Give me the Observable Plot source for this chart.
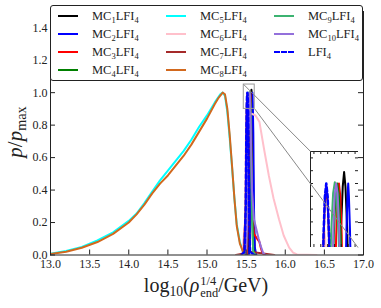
<!DOCTYPE html>
<html><head><meta charset="utf-8">
<script src="https://cdn.jsdelivr.net/npm/d3@7"></script>
<script src="https://cdn.jsdelivr.net/npm/@observablehq/plot@0.6"></script>
<style>
body{margin:0;background:#fff;}
#wrap{position:relative;width:381px;height:308px;font-family:"Liberation Serif",serif;overflow:hidden;}
#wrap svg{position:absolute;left:0;top:0;}
#wrap svg, #wrap svg text{font-family:"Liberation Serif",serif !important;}
.leg{position:absolute;left:50px;top:5px;width:311px;height:74px;border:1px solid #222;border-radius:3px;background:#fff;}
.item{position:absolute;height:16px;font-size:12.5px;line-height:16px;color:#222;white-space:nowrap;}
.item .sw{position:absolute;left:0;top:7px;width:20px;height:0;border-top:2px solid;}
.item .tx{position:absolute;left:34px;top:0;}
sub{font-size:0.68em;vertical-align:-0.3em;line-height:0;}
.ylab{position:absolute;left:15px;top:132px;transform:translate(-50%,-50%) rotate(-90deg);font-size:21px;color:#222;white-space:nowrap;}
.xlab{position:absolute;left:206px;top:287px;transform:translate(-50%,-50%);font-size:20px;color:#222;white-space:nowrap;}
.ss{display:inline-block;vertical-align:middle;line-height:1;font-size:0.62em;text-align:left;margin-left:1px;}
.ss span{display:block;}
</style></head><body><div id="wrap"></div>
<script>
// ---------------- data ----------------
const seriesNames = ["MC1LFI4","MC2LFI4","MC3LFI4","MC4LFI4","MC5LFI4","MC6LFI4","MC7LFI4","MC8LFI4","MC9LFI4","MC10LFI4","LFI4"];
const seriesColors = ["#000000","#0000ff","#ff0000","#008000","#00ffff","#ffc0cb","#a52a2a","#d2691e","#3cb371","#9370db","#0000ff"];
const xTicks = [13.0,13.5,14.0,14.5,15.0,15.5,16.0,16.5,17.0];
const yTicks = [0.0,0.2,0.4,0.6,0.8,1.0,1.2,1.4];
const insetXTicks = [15.48,15.50,15.52,15.54,15.56,15.58,15.60];
const insetYTicks = [0.92,0.94,0.96,0.98,1.00,1.02,1.04];
const zoomX = [15.47,15.61];
const zoomY = [0.90,1.05];
const insetX = [16.323,16.93];
const insetY = [0.046,0.638];

const mc1 = [[15.52,0],[15.542,0.3],[15.552,0.75],[15.559,0.93],[15.564,0.995],[15.568,1.018],[15.572,0.995],[15.577,0.93],[15.584,0.75],[15.594,0.3],[15.61,0.02],[15.63,0]];
const mc2 = [[15.54,0],[15.558,0.3],[15.568,0.75],[15.575,0.93],[15.578,0.98],[15.58,1.0],[15.582,0.98],[15.585,0.93],[15.592,0.75],[15.6,0.3],[15.61,0.05],[15.63,0]];
const mc3 = [[15.51,0],[15.527,0.3],[15.537,0.75],[15.545,0.92],[15.549,0.98],[15.553,1.0],[15.557,0.98],[15.561,0.92],[15.568,0.6],[15.58,0.25],[15.6,0.13],[15.64,0.1],[15.67,0.08],[15.69,0.04],[15.71,0.01],[15.74,0]];
const mc4 = [[15.5,0],[15.52,0.3],[15.53,0.75],[15.538,0.92],[15.543,0.98],[15.548,1.0],[15.553,0.98],[15.558,0.92],[15.565,0.75],[15.575,0.3],[15.59,0.04],[15.61,0]];
const mc5 = [[13.0,0.008],[13.2,0.025],[13.4,0.05],[13.6,0.09],[13.8,0.14],[14.0,0.21],[14.1,0.255],[14.2,0.32],[14.3,0.39],[14.4,0.46],[14.5,0.52],[14.6,0.58],[14.7,0.64],[14.8,0.71],[14.9,0.79],[15.0,0.86],[15.1,0.94],[15.17,0.99],[15.2,1.0],[15.23,0.98],[15.26,0.88],[15.29,0.72],[15.32,0.54],[15.35,0.35],[15.38,0.19],[15.42,0.08],[15.46,0.02],[15.5,0]];
const mc6 = [[15.45,0],[15.485,0.2],[15.497,0.7],[15.505,0.9],[15.51,0.93],[15.515,0.9],[15.53,0.88],[15.57,0.87],[15.62,0.86],[15.67,0.82],[15.73,0.65],[15.79,0.49],[15.85,0.35],[15.92,0.22],[15.98,0.12],[16.05,0.045],[16.1,0.015],[16.15,0.003],[16.4,0]];
const mc7 = [[15.37,0],[15.47,0.01],[15.495,0.3],[15.503,0.74],[15.508,0.91],[15.512,0.97],[15.516,0.995],[15.52,0.97],[15.524,0.91],[15.529,0.74],[15.537,0.3],[15.55,0.02],[15.86,0]];
const mc8 = [[13.0,0.006],[13.2,0.02],[13.4,0.045],[13.6,0.08],[13.8,0.13],[14.0,0.2],[14.1,0.25],[14.2,0.31],[14.3,0.38],[14.4,0.44],[14.5,0.49],[14.6,0.55],[14.7,0.61],[14.8,0.68],[14.9,0.76],[15.0,0.84],[15.1,0.93],[15.15,0.97],[15.2,1.0],[15.23,0.99],[15.26,0.9],[15.29,0.74],[15.32,0.55],[15.35,0.35],[15.38,0.18],[15.42,0.07],[15.46,0.02],[15.5,0]];
const mc9 = [[15.49,0],[15.51,0.3],[15.522,0.75],[15.53,0.92],[15.536,0.985],[15.541,1.002],[15.546,0.985],[15.552,0.92],[15.56,0.75],[15.572,0.3],[15.59,0.02],[15.62,0]];
const mc10 = [[15.5,0],[15.52,0.3],[15.53,0.75],[15.537,0.93],[15.541,0.985],[15.545,1.0],[15.549,0.985],[15.554,0.93],[15.56,0.75],[15.575,0.4],[15.6,0.22],[15.63,0.16],[15.66,0.1],[15.69,0.05],[15.72,0.01],[15.75,0]];
const lfi4 = [[15.44,0],[15.48,0.02],[15.495,0.3],[15.503,0.75],[15.508,0.92],[15.512,0.98],[15.516,1.0],[15.52,0.98],[15.524,0.92],[15.529,0.75],[15.537,0.3],[15.55,0.02],[15.6,0]];
const seriesData = [mc1,mc2,mc3,mc4,mc5,mc6,mc7,mc8,mc9,mc10,lfi4];

// ---------------- chart ----------------
const W = 381, H = 308, mL = 50, mR = 18, mT = 11, mB = 53.5;
const fw = W - mL - mR, fh = H - mT - mB;
function lineMarks(){
  return seriesData.map((d,i) => Plot.line(d, {x: p => p[0], y: p => p[1], stroke: seriesColors[i],
    strokeWidth: i === 10 ? 2.5 : 2, strokeDasharray: i === 10 ? "4,2.5" : null, clip: true}));
}
const wrap = document.getElementById("wrap");
const main = Plot.plot({
  width: W, height: H, marginLeft: mL, marginRight: mR, marginTop: mT, marginBottom: mB,
  x: {domain: [13, 17]}, y: {domain: [0, 1.5]},
  style: {fontFamily: "Liberation Serif, serif", fontSize: "12px", background: "transparent", color: "#222"},
  marks: [
    ...lineMarks(),
    Plot.frame({stroke: "#222"}),
    Plot.ruleX(xTicks, {x: d => d, insetTop: fh - 5, stroke: "#222"}),
    Plot.ruleX(xTicks, {x: d => d, insetBottom: fh - 5, stroke: "#222"}),
    Plot.ruleY(yTicks, {y: d => d, insetRight: fw - 5, stroke: "#222"}),
    Plot.ruleY(yTicks, {y: d => d, insetLeft: fw - 5, stroke: "#222"}),
    Plot.axisX({ticks: xTicks, tickSize: 0, tickPadding: 4, tickFormat: d => d.toFixed(1), label: null}),
    Plot.axisY({ticks: yTicks, tickSize: 0, tickPadding: 3, tickFormat: d => d.toFixed(1), label: null})
  ]
});
main.setAttribute("font-family", "Liberation Serif, serif");
wrap.appendChild(main);

const sx = main.scale("x"), sy = main.scale("y");
const L = Math.round(sx.apply(insetX[0])), R = Math.round(sx.apply(insetX[1]));
const T = Math.round(sy.apply(insetY[1])), B = Math.round(sy.apply(insetY[0]));
const iw = R - L, ih = B - T;
const inset = Plot.plot({
  width: iw, height: ih, margin: 0,
  x: {domain: zoomX, axis: null}, y: {domain: zoomY, axis: null},
  style: {background: "#fff"},
  marks: [
    ...lineMarks(),
    Plot.ruleX(insetXTicks, {x: d => d, insetTop: ih - 3, stroke: "#222"}),
    Plot.ruleX(insetXTicks, {x: d => d, insetBottom: ih - 3, stroke: "#222"}),
    Plot.ruleY(insetYTicks, {y: d => d, insetRight: iw - 3, stroke: "#222"}),
    Plot.ruleY(insetYTicks, {y: d => d, insetLeft: iw - 3, stroke: "#222"}),
    Plot.frame({stroke: "#222"})
  ]
});
inset.style.left = L + "px"; inset.style.top = T + "px";
wrap.appendChild(inset);

const links = [
  {x1: zoomX[0], y1: zoomY[1], x2: insetX[0], y2: insetY[1]},
  {x1: zoomX[1], y1: zoomY[0], x2: insetX[1], y2: insetY[0]}
];
const overlay = Plot.plot({
  width: W, height: H, marginLeft: mL, marginRight: mR, marginTop: mT, marginBottom: mB,
  x: {domain: [13, 17], axis: null}, y: {domain: [0, 1.5], axis: null},
  style: {background: "transparent"},
  marks: [
    Plot.rect([{}], {x1: zoomX[0], x2: zoomX[1], y1: zoomY[0], y2: zoomY[1], fill: "none", stroke: "#999", strokeWidth: 1}),
    Plot.link(links, {x1: "x1", y1: "y1", x2: "x2", y2: "y2", stroke: "#888", strokeWidth: 1})
  ]
});
overlay.style.pointerEvents = "none";
wrap.appendChild(overlay);

// legend
const leg = document.createElement("div");
leg.className = "leg";
const colX = [7, 115, 223];
const rowY = [2, 20, 38, 56];
const legLabels = ["MC<sub>1</sub>LFI<sub>4</sub>","MC<sub>2</sub>LFI<sub>4</sub>","MC<sub>3</sub>LFI<sub>4</sub>","MC<sub>4</sub>LFI<sub>4</sub>",
  "MC<sub>5</sub>LFI<sub>4</sub>","MC<sub>6</sub>LFI<sub>4</sub>","MC<sub>7</sub>LFI<sub>4</sub>","MC<sub>8</sub>LFI<sub>4</sub>",
  "MC<sub>9</sub>LFI<sub>4</sub>","MC<sub>10</sub>LFI<sub>4</sub>","LFI<sub>4</sub>"];
legLabels.forEach((lab, i) => {
  const c = Math.floor(i / 4), r = i % 4;
  const it = document.createElement("div");
  it.className = "item";
  it.style.left = colX[c] + "px"; it.style.top = rowY[r] + "px";
  const sw = document.createElement("span");
  sw.className = "sw";
  sw.style.borderTopColor = seriesColors[i];
  if (i === 10) sw.style.borderTopStyle = "dashed";
  const tx = document.createElement("span");
  tx.className = "tx"; tx.innerHTML = lab;
  it.appendChild(sw); it.appendChild(tx);
  leg.appendChild(it);
});
wrap.appendChild(leg);

const yl = document.createElement("div");
yl.className = "ylab";
yl.innerHTML = "<i>p</i>/<i>p</i><sub>max</sub>";
wrap.appendChild(yl);
const xl = document.createElement("div");
xl.className = "xlab";
xl.innerHTML = "log<sub>10</sub>(<i>ρ</i><span class='ss'><span>1/4</span><span>end</span></span>/GeV)";
wrap.appendChild(xl);
</script></body></html>
